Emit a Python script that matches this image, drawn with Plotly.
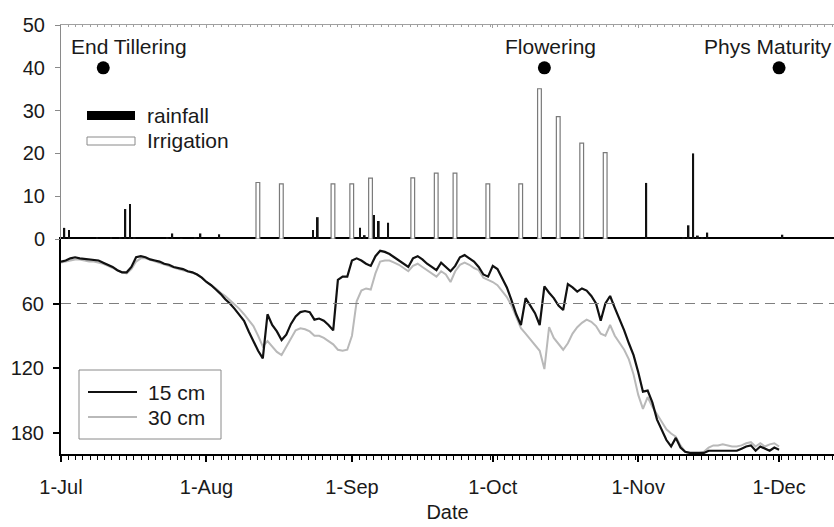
import pandas as pd
import plotly.graph_objects as go

YEAR = 2006
DAY_MS = 86400000

# Daily rainfall events (mm)
rain_dates = ["07-01", "07-02", "07-08", "07-11", "07-13", "07-14", "07-15", "07-16",
              "07-23", "07-24", "07-26", "07-29", "07-30", "08-03", "08-23", "08-24",
              "09-02", "09-03", "09-05", "09-06", "09-08", "09-23", "11-02", "11-10",
              "11-11", "11-12", "11-13", "11-14", "11-15", "12-01"]
rain_mm = [2.6, 2.1, 0.3, 0.3, 0.3, 7.0, 8.2, 0.3,
           0.3, 1.3, 0.2, 0.3, 1.3, 1.1, 2.1, 5.1,
           2.6, 0.9, 5.6, 4.2, 3.8, 0.3, 13.1, 0.3,
           3.2, 20.0, 0.8, 0.3, 1.5, 1.0]

# Irrigation applications (mm)
irrig_dates = ["08-11", "08-16", "08-27", "08-31", "09-04", "09-13", "09-18",
               "09-22", "09-29", "10-06", "10-10", "10-14", "10-19", "10-24"]
irrig_mm = [13.2, 12.9, 12.9, 12.9, 14.2, 14.3, 15.4,
            15.4, 12.9, 12.9, 35.1, 28.6, 22.4, 20.2]

# Crop development stages
stage_names = ["End Tillering", "Flowering", "Phys Maturity"]
stage_dates = ["07-10", "10-12", "12-01"]
stage_level = [40, 40, 40]

# Daily soil water tension from 1 July, sensors at 15 cm and 30 cm
depth15 = [21, 20, 18, 17, 18, 18.5, 19, 20, 20, 22,
           24, 26, 29, 31, 31, 26, 17, 16, 17, 19,
           20, 21, 23, 24, 26, 27, 28, 30, 31, 33,
           36, 40, 43, 47, 51, 56, 60, 65, 70, 76,
           86, 95, 104, 111, 70, 80, 86, 94, 89, 79,
           72, 68, 67, 68, 75, 74, 76, 80, 85, 38,
           35, 35, 20, 18, 20, 23, 25, 16, 11, 12,
           14, 17, 20, 23, 26, 18, 16, 19, 23, 26,
           29, 22, 26, 30, 25, 17, 15, 18, 21, 26,
           33, 35, 25, 28, 36, 45, 57, 70, 80, 55,
           62, 69, 80, 44, 50, 55, 62, 66, 42, 45,
           49, 46, 48, 53, 60, 76, 60, 53, 64, 74,
           85, 97, 108, 124, 142, 141, 152, 168, 178, 187,
           193, 185, 194, 198, 199, 199, 199, 199, 197, 197,
           197, 197, 197, 197, 197, 195, 193, 192, 197, 193,
           195, 197, 194, 196]
depth30 = [22, 21, 20, 19, 19, 20, 21, 21, 22, 23,
           25, 27, 29, 31, 32, 28, 21, 18, 18, 19.5,
           21, 22, 23.5, 25, 26.5, 28, 29, 30, 31.5, 33,
           36, 40, 43, 46, 50, 53, 57, 61, 65, 70,
           75, 81, 90, 100, 95, 100, 105, 108, 100, 92,
           85, 83, 84, 86, 90, 90, 92, 95, 98, 103,
           104, 103, 90, 58, 48, 46, 47, 32, 21, 20,
           20, 22, 24, 27, 30, 25, 23, 26, 29, 32,
           35, 30, 33, 40, 30, 24, 22, 24, 27, 29,
           36, 38, 40, 43, 48, 54, 62, 72, 83, 88,
           93, 98, 104, 121, 82, 92, 98, 103, 97, 88,
           82, 78, 75, 77, 81, 88, 90, 80, 90, 96,
           103, 112, 126, 145, 158, 147, 156, 163, 170, 177,
           181, 184, 192, 198, 199, 199, 199, 198, 194, 192,
           192, 191, 192, 193, 193, 192, 190, 189, 193, 190,
           193, 191, 190, 193]

month_ticks = ["07-01", "08-01", "09-01", "10-01", "11-01", "12-01"]
month_labels = ["1-Jul", "1-Aug", "1-Sep", "1-Oct", "1-Nov", "1-Dec"]
tension_ticks = [60, 120, 180]
water_ticks = [0, 10, 20, 30, 40, 50]


def to_date(md):
    return pd.Timestamp(f"{YEAR}-{md}")


days = pd.date_range(f"{YEAR}-07-01", periods=len(depth15), freq="D")
x_start = to_date("07-01")
x_end = to_date("12-12") + pd.Timedelta(hours=17)

FONT = "Liberation Sans, Arial, sans-serif"
INK = "#1a1a1a"
W, H = 834, 527
ML, MR, MT, MB = 61, 0, 25, 73
PW, PH = W - ML - MR, H - MT - MB


def px(x):
    return (x - ML) / PW


def py(y):
    return (H - MB - y) / PH


split = py(239)

fig = go.Figure()

fig.add_trace(go.Bar(
    x=[to_date(d) for d in irrig_dates], y=irrig_mm, name="Irrigation",
    xaxis="x2", yaxis="y2",
    width=0.8 * DAY_MS, offset=0.55 * DAY_MS,
    marker=dict(color="white", line=dict(color="#7a7a7a", width=1.2)),
))
fig.add_trace(go.Bar(
    x=[to_date(d) for d in rain_dates], y=rain_mm, name="rainfall",
    xaxis="x2", yaxis="y2",
    width=0.4 * DAY_MS, offset=0.5 * DAY_MS,
    marker=dict(color="#111111", line=dict(width=0)),
))
fig.add_trace(go.Scatter(
    x=[to_date(d) for d in stage_dates], y=stage_level, mode="markers",
    xaxis="x2", yaxis="y2", marker=dict(size=13, color="black"),
    cliponaxis=False,
))

fig.add_trace(go.Scatter(
    x=days, y=depth30, mode="lines", name="30 cm",
    line=dict(color="#b9b9b9", width=2), xaxis="x", yaxis="y",
))
fig.add_trace(go.Scatter(
    x=days, y=depth15, mode="lines", name="15 cm",
    line=dict(color="#111111", width=2.2), xaxis="x", yaxis="y",
))

# 60 reference level
fig.add_shape(type="line", xref="x domain", x0=0, x1=1, yref="y", y0=60, y1=60,
              line=dict(color="#7f7f7f", width=1, dash="10px,6px"))

LABEL_SIZE = 21

# stage labels
for name, d, shift in zip(stage_names, stage_dates, [26, 6, -11]):
    fig.add_annotation(x=to_date(d), y=45, xref="x2", yref="y2", text=name,
                       showarrow=False, xanchor="center", yanchor="middle",
                       xshift=shift, font=dict(family=FONT, size=LABEL_SIZE, color=INK))

# key for the water inputs
fig.add_shape(type="rect", xref="paper", yref="paper",
              x0=px(87), x1=px(135), y0=py(120), y1=py(111),
              fillcolor="black", line=dict(width=0))
fig.add_shape(type="rect", xref="paper", yref="paper",
              x0=px(87), x1=px(135), y0=py(145), y1=py(137),
              fillcolor="white", line=dict(color="#8a8a8a", width=1))
for label, yc in [("rainfall", 115), ("Irrigation", 141)]:
    fig.add_annotation(x=px(145), y=py(yc), xref="paper", yref="paper", text=label,
                       showarrow=False, xanchor="left", yanchor="middle",
                       font=dict(family=FONT, size=LABEL_SIZE, color=INK))

# key for the sensor depths
fig.add_shape(type="rect", xref="paper", yref="paper",
              x0=px(79), x1=px(221), y0=py(439), y1=py(370),
              fillcolor="white", line=dict(color="#8a8a8a", width=1))
for label, yc, col in [("15 cm", 392, "#111111"), ("30 cm", 417, "#b9b9b9")]:
    fig.add_shape(type="line", xref="paper", yref="paper",
                  x0=px(88), x1=px(137), y0=py(yc), y1=py(yc),
                  line=dict(color=col, width=2))
    fig.add_annotation(x=px(146), y=py(yc), xref="paper", yref="paper", text=label,
                       showarrow=False, xanchor="left", yanchor="middle",
                       font=dict(family=FONT, size=LABEL_SIZE, color=INK))

tick_font = dict(family=FONT, size=20, color=INK)
minor_x = dict(tickmode="linear", tick0=x_start, dtick=1.55 * DAY_MS)

fig.update_layout(
    width=W, height=H,
    margin=dict(l=ML, r=MR, t=MT, b=MB),
    paper_bgcolor="white", plot_bgcolor="white",
    showlegend=False, barmode="overlay",
    font=dict(family=FONT, color=INK),
    xaxis=dict(
        type="date", domain=[0, 1], anchor="y", range=[x_start, x_end],
        tickmode="array", tickvals=[to_date(m) for m in month_ticks], ticktext=month_labels,
        ticks="outside", ticklen=6, tickwidth=1.5, tickcolor="black",
        minor=dict(minor_x, ticks="outside", ticklen=4, tickwidth=1, tickcolor="black"),
        showline=True, linecolor="black", linewidth=2, mirror=True,
        showgrid=False, zeroline=False, tickfont=tick_font, ticklabelstandoff=8,
        title=dict(text="Date", font=dict(family=FONT, size=20, color=INK), standoff=8),
    ),
    xaxis2=dict(
        type="date", domain=[0, 1], anchor="y2", matches="x", side="top",
        tickmode="array", tickvals=[to_date(m) for m in month_ticks],
        showticklabels=False, ticks="inside", ticklen=3, tickcolor="#a0a0a0",
        minor=dict(minor_x, ticks="inside", ticklen=2, tickcolor="#a0a0a0"),
        showline=True, linecolor="#a0a0a0", linewidth=1, showgrid=False, zeroline=False,
    ),
    yaxis=dict(
        domain=[0, split], anchor="x", range=[200, 0],
        tickmode="array", tickvals=tension_ticks,
        ticks="outside", ticklen=6, tickcolor="black", tickwidth=1.5,
        showline=True, linecolor="black", linewidth=2,
        showgrid=False, zeroline=False, tickfont=tick_font, ticklabelstandoff=5,
    ),
    yaxis2=dict(
        domain=[split, 1], anchor="x2", range=[0, 50],
        tickmode="array", tickvals=water_ticks,
        ticks="outside", ticklen=5, tickcolor="#8a8a8a",
        showline=True, linecolor="#8a8a8a", linewidth=1,
        showgrid=False, zeroline=False, tickfont=tick_font, ticklabelstandoff=6,
    ),
)

fig.write_html("out.html")
